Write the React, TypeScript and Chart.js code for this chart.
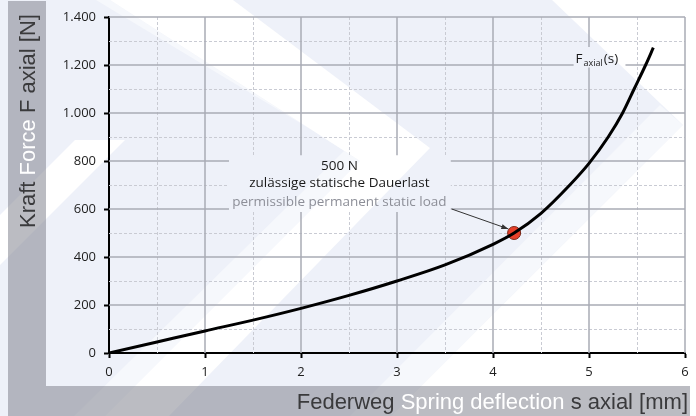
import React, { useEffect, useRef } from "react";
import { Chart, registerables } from "chart.js";

Chart.register(...registerables);

// ---- data ----
const deflection = [0, 0.5, 1, 1.5, 2, 2.5, 3, 3.5, 4, 4.22, 4.5, 4.8, 5.0, 5.2, 5.35, 5.47, 5.59, 5.67];
const force = [0, 46, 92, 137, 186, 240, 300, 367, 453, 500, 582, 700, 790, 900, 1000, 1100, 1200, 1272];
const loadPointS = [4.22];
const loadPointF = [500];
const xMajorTicks = [0, 1, 2, 3, 4, 5, 6];
const yMajorTicks = [0, 200, 400, 600, 800, 1000, 1200, 1400];
const xMinorTicks = [0.5, 1.5, 2.5, 3.5, 4.5, 5.5];
const yMinorTicks = [100, 300, 500, 700, 900, 1100, 1300];
const annotationLines = ["500 N", "zulässige statische Dauerlast", "permissible permanent static load"];
const curveLabelMain = "F";
const curveLabelSub = "axial";
const curveLabelTail = "(s)";
const yTitleParts = ["Kraft ", "Force ", "F axial [N]"];
const xTitleParts = ["Federweg ", "Spring deflection ", "s axial [mm]"];

const W = 696;
const H = 416;
const PALE = "#eef1f9";
const DARK = "#3a3a3c";
const FONT = "'Open Sans', 'Noto Sans', sans-serif";
const TITLE_FONT = "'Liberation Sans', Arial, sans-serif";

function fmt(v: number) {
  return String(v).replace(/\B(?=(\d{3})+(?!\d))/g, ".");
}

function poly(ctx: CanvasRenderingContext2D, pts: number[][], color: string) {
  ctx.beginPath();
  ctx.moveTo(pts[0][0], pts[0][1]);
  for (let i = 1; i < pts.length; i++) ctx.lineTo(pts[i][0], pts[i][1]);
  ctx.closePath();
  ctx.fillStyle = color;
  ctx.fill();
}

const decorPlugin = {
  id: "decor",
  beforeDraw(chart: any) {
    const ctx: CanvasRenderingContext2D = chart.ctx;
    ctx.save();
    ctx.fillStyle = PALE;
    ctx.fillRect(0, 0, W, H);
    // watermark chevrons
    poly(ctx, [[96, 0], [110, 0], [360, 161], [521 - 416, 416], [490 - 416, 416], [345, 150]], "#f6f8fc");
    poly(ctx, [[110, 0], [233, 0], [430, 148], [585 - 416, 416], [521 - 416, 416], [360, 161]], "#ffffff");
    poly(ctx, [[660, 105], [683, 125], [391, 416], [350, 416]], "#f6f8fc");
    poly(ctx, [[552, 0], [696, 0], [696, 416], [391, 416], [683, 125]], "#ffffff");
    poly(ctx, [[75, 140], [125, 140], [0, 265], [0, 215]], "#ffffff");
    // gray frame
    ctx.fillStyle = "rgba(120,121,134,0.5)";
    ctx.fillRect(8, 1, 38, H - 1);
    ctx.fillRect(46, 386, 644, 30);
    // titles
    ctx.font = "22px " + TITLE_FONT;
    ctx.textBaseline = "alphabetic";
    const widths = xTitleParts.map((t) => ctx.measureText(t).width);
    const total = widths.reduce((a, b) => a + b, 0);
    let x = 688 - total;
    const colors = [DARK, "#ffffff", DARK];
    xTitleParts.forEach((t, i) => {
      ctx.fillStyle = colors[i];
      ctx.fillText(t, x, 409);
      x += widths[i];
    });
    ctx.save();
    ctx.translate(35, 228);
    ctx.rotate(-Math.PI / 2);
    let yx = 0;
    yTitleParts.forEach((t, i) => {
      ctx.fillStyle = colors[i];
      ctx.fillText(t, yx, 0);
      yx += ctx.measureText(t).width;
    });
    ctx.restore();
    ctx.restore();
  },
  beforeDatasetsDraw(chart: any) {
    const ctx: CanvasRenderingContext2D = chart.ctx;
    const a = chart.chartArea;
    const xs = chart.scales.x;
    const ys = chart.scales.y;
    const boxes = [
      [1.25, 3.56, 587, 824],
      [4.84, 5.38, 1190, 1275],
    ];
    ctx.save();
    ctx.beginPath();
    ctx.rect(a.left - 2, a.top - 2, a.right - a.left + 4, a.bottom - a.top + 4);
    boxes.forEach((b) => {
      const x0 = xs.getPixelForValue(b[0]);
      const x1 = xs.getPixelForValue(b[1]);
      const y0 = ys.getPixelForValue(b[3]);
      const y1 = ys.getPixelForValue(b[2]);
      ctx.rect(x0, y0, x1 - x0, y1 - y0);
    });
    ctx.clip("evenodd");
    ctx.lineWidth = 1;
    ctx.strokeStyle = "#c9cbd3";
    ctx.setLineDash([3, 2]);
    xMinorTicks.forEach((v) => {
      const px = Math.round(xs.getPixelForValue(v)) + 0.5;
      ctx.beginPath();
      ctx.moveTo(px, a.top);
      ctx.lineTo(px, a.bottom);
      ctx.stroke();
    });
    yMinorTicks.forEach((v) => {
      const py = Math.round(ys.getPixelForValue(v)) + 0.5;
      ctx.beginPath();
      ctx.moveTo(a.left, py);
      ctx.lineTo(a.right, py);
      ctx.stroke();
    });
    ctx.setLineDash([]);
    ctx.lineWidth = 1.5;
    ctx.strokeStyle = "#a9abb4";
    xMajorTicks.slice(1).forEach((v) => {
      const px = xs.getPixelForValue(v);
      ctx.beginPath();
      ctx.moveTo(px, a.top);
      ctx.lineTo(px, a.bottom);
      ctx.stroke();
    });
    yMajorTicks.slice(1).forEach((v) => {
      const py = ys.getPixelForValue(v);
      ctx.beginPath();
      ctx.moveTo(a.left, py);
      ctx.lineTo(a.right, py);
      ctx.stroke();
    });
    ctx.restore();
  },
  afterDatasetsDraw(chart: any) {
    const ctx: CanvasRenderingContext2D = chart.ctx;
    const xs = chart.scales.x;
    const ys = chart.scales.y;
    ctx.save();
    ctx.font = "13.5px " + FONT;
    ctx.textAlign = "center";
    ctx.textBaseline = "middle";
    const cx = xs.getPixelForValue(2.4);
    const lineF = [778, 706, 629];
    const lineC = ["#1a1a1a", "#1a1a1a", "#8d8f98"];
    annotationLines.forEach((t, i) => {
      ctx.fillStyle = lineC[i];
      ctx.fillText(t, cx, ys.getPixelForValue(lineF[i]));
    });
    const ax0 = xs.getPixelForValue(3.57);
    const ay0 = ys.getPixelForValue(600);
    const ax1 = xs.getPixelForValue(4.16);
    const ay1 = ys.getPixelForValue(517);
    ctx.strokeStyle = "#333";
    ctx.lineWidth = 1;
    ctx.beginPath();
    ctx.moveTo(ax0, ay0);
    ctx.lineTo(ax1, ay1);
    ctx.stroke();
    const ang = Math.atan2(ay1 - ay0, ax1 - ax0);
    ctx.fillStyle = "#333";
    ctx.beginPath();
    ctx.moveTo(ax1, ay1);
    ctx.lineTo(ax1 - 7 * Math.cos(ang) + 2.5 * Math.sin(ang), ay1 - 7 * Math.sin(ang) - 2.5 * Math.cos(ang));
    ctx.lineTo(ax1 - 7 * Math.cos(ang) - 2.5 * Math.sin(ang), ay1 - 7 * Math.sin(ang) + 2.5 * Math.cos(ang));
    ctx.closePath();
    ctx.fill();
    ctx.textAlign = "left";
    ctx.textBaseline = "alphabetic";
    ctx.fillStyle = "#1a1a1a";
    let lx = xs.getPixelForValue(4.86);
    const ly = ys.getPixelForValue(1230) + 5;
    ctx.font = "13.5px " + FONT;
    ctx.fillText(curveLabelMain, lx, ly);
    lx += ctx.measureText(curveLabelMain).width + 1;
    ctx.font = "9px " + FONT;
    ctx.fillText(curveLabelSub, lx, ly + 3);
    lx += ctx.measureText(curveLabelSub).width + 1;
    ctx.font = "13.5px " + FONT;
    ctx.fillText(curveLabelTail, lx, ly);
    ctx.restore();
  },
};

export default function App() {
  const ref = useRef<HTMLCanvasElement | null>(null);
  useEffect(() => {
    if (!ref.current) return;
    const chart = new Chart(ref.current, {
      type: "line",
      data: {
        datasets: [
          {
            label: "F axial(s)",
            data: deflection.map((s, i) => ({ x: s, y: force[i] })),
            borderColor: "#000000",
            borderWidth: 3,
            pointRadius: 0,
            cubicInterpolationMode: "monotone",
            fill: false,
          },
          {
            label: "500 N",
            data: loadPointS.map((s, i) => ({ x: s, y: loadPointF[i] })),
            showLine: false,
            pointRadius: 6.5,
            pointBackgroundColor: "#e8402a",
            pointBorderColor: "#7a2718",
            pointBorderWidth: 1,
          },
        ],
      },
      options: {
        responsive: false,
        animation: false,
        devicePixelRatio: 1,
        layout: { padding: { left: 0, right: 11, top: 17, bottom: 0 } },
        plugins: { legend: { display: false }, tooltip: { enabled: false } },
        scales: {
          x: {
            type: "linear",
            min: 0,
            max: 6,
            afterBuildTicks: (s: any) => {
              s.ticks = xMajorTicks.map((v) => ({ value: v }));
            },
            afterFit: (s: any) => {
              s.height = 63;
            },
            ticks: { color: "#1e1e1e", font: { family: FONT, size: 13 }, padding: 6, callback: (v: any) => String(v) },
            grid: { display: true, drawOnChartArea: false, drawTicks: true, tickLength: 5, tickColor: "#000", tickWidth: 2 },
            border: { display: true, color: "#000", width: 2 },
          },
          y: {
            type: "linear",
            min: 0,
            max: 1400,
            afterBuildTicks: (s: any) => {
              s.ticks = yMajorTicks.map((v) => ({ value: v }));
            },
            afterFit: (s: any) => {
              s.width = 109;
            },
            ticks: { color: "#1e1e1e", font: { family: FONT, size: 13 }, padding: 8, callback: (v: any) => fmt(v) },
            grid: { display: true, drawOnChartArea: false, drawTicks: true, tickLength: 5, tickColor: "#000", tickWidth: 2 },
            border: { display: true, color: "#000", width: 2 },
          },
        },
      },
      plugins: [decorPlugin],
    } as any);
    return () => chart.destroy();
  }, []);
  return (
    <div style={{ position: "fixed", left: 0, top: 0, width: W, height: H }}>
      <canvas ref={ref} width={W} height={H} style={{ width: W, height: H, display: "block" }} />
    </div>
  );
}
